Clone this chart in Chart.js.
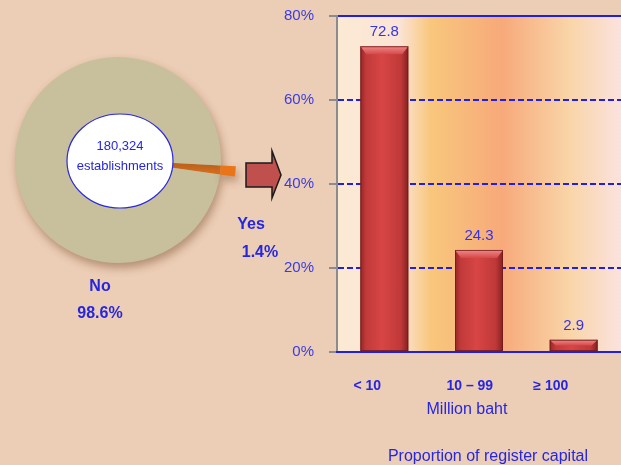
<!DOCTYPE html>
<html>
<head>
<meta charset="utf-8">
<script src="https://cdn.jsdelivr.net/npm/chart.js@4.4.0/dist/chart.umd.min.js"></script>
<style>
html, body { margin: 0; padding: 0; }
body { width: 621px; height: 465px; background: #eccdb5; position: relative; overflow: hidden; }
#pieBox { position: absolute; left: 0; top: 0; }
#barBox { position: absolute; left: 270px; top: 0; }
</style>
</head>
<body>
<div id="pieBox"><canvas id="pieChart" width="300" height="330"></canvas></div>
<div id="barBox"><canvas id="barChart" width="351" height="465"></canvas></div>
<script>
// pie: registered establishments
var pieLabels = ['Yes', 'No'];
var pieValues = [1.4, 98.6];
var pieTotal = '180,324';
var pieTotalUnit = 'establishments';

// bars: proportion by register capital (million baht)
var capitalLabels = ['< 10', '10 – 99', '≥ 100'];
var capitalValues = [72.8, 24.3, 2.9];
var yTickStep = 20;
var yMax = 80;

var FONT = '"Liberation Sans", Arial, sans-serif';
var BLUE = '#2626e0';

var pieDeco = {
    id: 'pieDeco',
    beforeDatasetsDraw: function(chart){
        var ctx = chart.ctx;
        ctx.save();
        ctx.shadowColor = 'rgba(110,70,40,0.45)';
        ctx.shadowBlur = 9;
        ctx.shadowOffsetX = 2;
        ctx.shadowOffsetY = 5;
    },
    afterDatasetsDraw: function(chart){
        var ctx = chart.ctx;
        ctx.restore();
        var arc = chart.getDatasetMeta(1).data[1];
        var cx = arc.x, cy = arc.y;

        // centre ellipse
        ctx.save();
        ctx.beginPath();
        ctx.ellipse(cx + 2, cy + 1, 53, 47, 0, 0, Math.PI * 2);
        ctx.fillStyle = '#ffffff';
        ctx.fill();
        ctx.lineWidth = 1.2;
        ctx.strokeStyle = '#2a2ae0';
        ctx.stroke();
        ctx.fillStyle = BLUE;
        ctx.font = '13px ' + FONT;
        ctx.textAlign = 'center';
        ctx.textBaseline = 'middle';
        ctx.fillText(pieTotal, cx + 2, cy - 14);
        ctx.fillText(pieTotalUnit, cx + 2, cy + 6);

        // arrow to the bar chart
        ctx.beginPath();
        ctx.moveTo(246, 163);
        ctx.lineTo(272, 163);
        ctx.lineTo(272, 151);
        ctx.lineTo(281, 175);
        ctx.lineTo(272, 198);
        ctx.lineTo(272, 187);
        ctx.lineTo(246, 187);
        ctx.closePath();
        ctx.fillStyle = '#c0504d';
        ctx.fill();
        ctx.lineWidth = 1.5;
        ctx.strokeStyle = '#1a1a1a';
        ctx.stroke();

        // slice labels
        ctx.font = 'bold 16px ' + FONT;
        ctx.fillStyle = BLUE;
        var pos = [[251, 225, 260, 253], [100, 287, 100, 314]];
        pieLabels.forEach(function(lbl, i){
            ctx.fillText(lbl, pos[i][0], pos[i][1]);
            ctx.fillText(pieValues[i].toFixed(1) + '%', pos[i][2], pos[i][3]);
        });
        ctx.restore();
    }
};

// outer ring only shows the pulled-out "Yes" wedge
new Chart(document.getElementById('pieChart'), {
    type: 'pie',
    data: {
        labels: pieLabels,
        datasets: [{
            data: pieValues,
            backgroundColor: ['#ea7418', 'rgba(0,0,0,0)'],
            borderWidth: 0,
            weight: 15
        }, {
            data: pieValues,
            backgroundColor: ['#ea7418', '#c8bf9c'],
            borderWidth: 0,
            weight: 103
        }]
    },
    options: {
        responsive: false,
        animation: false,
        radius: 118,
        rotation: 93,
        layout: { padding: { left: 0, top: 0, right: 64, bottom: 10 } },
        plugins: { legend: { display: false }, tooltip: { enabled: false } }
    },
    plugins: [pieDeco]
});

var plotBg = {
    id: 'plotBg',
    beforeDraw: function(chart){
        var a = chart.chartArea, ctx = chart.ctx;
        var g = ctx.createLinearGradient(a.left, 0, a.right, 0);
        g.addColorStop(0, '#fbead4');
        g.addColorStop(0.22, '#fbe4d6');
        g.addColorStop(0.33, '#f8c77c');
        g.addColorStop(0.58, '#f7a97a');
        g.addColorStop(0.82, '#f9d5a8');
        g.addColorStop(1, '#fbe2de');
        ctx.save();
        ctx.fillStyle = g;
        ctx.fillRect(a.left, a.top, a.right - a.left, a.bottom - a.top);
        ctx.restore();
    }
};

var barDeco = {
    id: 'barDeco',
    afterDatasetsDraw: function(chart){
        var ctx = chart.ctx;
        var bars = chart.getDatasetMeta(0).data;
        ctx.save();
        bars.forEach(function(bar, i){
            var l = bar.x - bar.width / 2, r = bar.x + bar.width / 2, t = bar.y;
            var cap = Math.min(8, (bar.base - t) / 2);
            var g = ctx.createLinearGradient(0, t, 0, t + cap);
            g.addColorStop(0, '#f08a8a');
            g.addColorStop(1, '#d64848');
            ctx.beginPath();
            ctx.moveTo(l, t);
            ctx.lineTo(r, t);
            ctx.lineTo(r - 6, t + cap);
            ctx.lineTo(l + 6, t + cap);
            ctx.closePath();
            ctx.fillStyle = g;
            ctx.fill();
            ctx.strokeStyle = 'rgba(110,25,25,0.8)';
            ctx.lineWidth = 1;
            ctx.strokeRect(l + 0.5, t + 0.5, bar.width - 1, bar.base - t - 1);

            ctx.fillStyle = '#3434e6';
            ctx.font = '15px ' + FONT;
            ctx.textAlign = 'center';
            ctx.textBaseline = 'middle';
            ctx.fillText(capitalValues[i].toFixed(1), bar.x, t - 14);
        });

        // axis captions
        var a = chart.chartArea;
        ctx.fillStyle = BLUE;
        ctx.font = '16px ' + FONT;
        ctx.fillText('Million baht', a.left + 130, 410);
        ctx.fillText('Proportion of register capital', a.left + 151, 457);
        ctx.restore();
    }
};

function barFill(c){
    var chart = c.chart, xs = chart.scales.x;
    if(!xs || !chart.chartArea){ return '#c83c3c'; }
    var cx = xs.getPixelForValue(c.dataIndex);
    var half = xs.width / capitalValues.length * 0.507 / 2;
    var g = chart.ctx.createLinearGradient(cx - half, 0, cx + half, 0);
    g.addColorStop(0, '#962626');
    g.addColorStop(0.12, '#c13a3a');
    g.addColorStop(0.45, '#d84545');
    g.addColorStop(0.85, '#bf3838');
    g.addColorStop(1, '#842020');
    return g;
}

var labelShift = [0, 8, -6];

new Chart(document.getElementById('barChart'), {
    type: 'bar',
    data: {
        labels: capitalLabels,
        datasets: [{
            data: capitalValues,
            backgroundColor: barFill,
            borderWidth: 0,
            barPercentage: 0.507,
            categoryPercentage: 1
        }]
    },
    options: {
        responsive: false,
        animation: false,
        layout: { padding: { top: 16, left: 0, right: 0, bottom: 0 } },
        plugins: { legend: { display: false }, tooltip: { enabled: false } },
        scales: {
            x: {
                grid: { display: false },
                border: { color: '#1f1fe8', width: 2, z: 1 },
                ticks: {
                    color: BLUE,
                    font: { family: FONT, size: 14, weight: 'bold' },
                    padding: 18,
                    labelOffset: -17,
                    maxRotation: 0,
                    callback: function(v, i){
                        var s = capitalLabels[i];
                        var n = Math.round(Math.abs(labelShift[i]) / 2);
                        var pad = new Array(n + 1).join(' ');
                        return labelShift[i] > 0 ? pad + s : s + pad;
                    }
                },
                afterFit: function(s){ s.height = 113; s.paddingLeft = 0; s.paddingRight = 0; }
            },
            y: {
                min: 0,
                max: yMax,
                ticks: {
                    stepSize: yTickStep,
                    color: '#3a3ae8',
                    font: { family: FONT, size: 15 },
                    padding: 15,
                    callback: function(v){ return v + '%'; }
                },
                grid: {
                    color: function(c){ return c.tick && c.tick.value === 0 ? 'rgba(0,0,0,0)' : '#1f1fe8'; },
                    lineWidth: 2,
                    tickColor: '#8c8c8c',
                    tickLength: 8,
                    tickWidth: 2
                },
                border: {
                    color: '#8c8c8c',
                    width: 2,
                    dash: function(c){ return c.tick && c.tick.value !== yMax ? [6, 3] : []; }
                },
                afterFit: function(s){ s.width = 67; s.paddingTop = 0; s.paddingBottom = 0; }
            }
        }
    },
    plugins: [plotBg, barDeco]
});
</script>
</body>
</html>
